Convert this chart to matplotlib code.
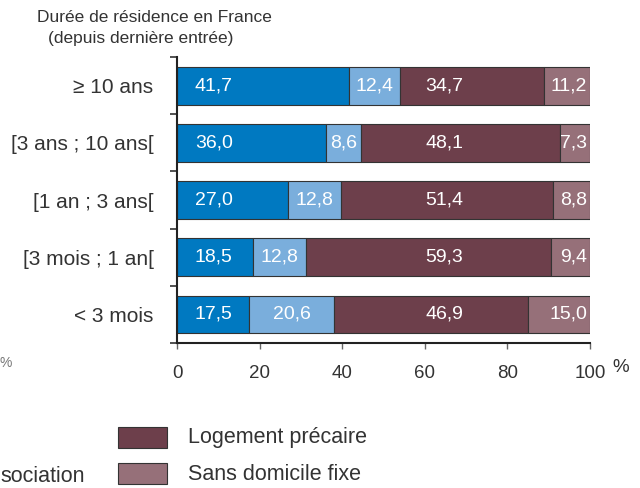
import matplotlib.pyplot as plt
from matplotlib.patches import Rectangle

plt.rcParams['font.family'] = ['Liberation Sans', 'DejaVu Sans']

categories = ['≥ 10 ans', '[3 ans ; 10 ans[', '[1 an ; 3 ans[', '[3 mois ; 1 an[', '< 3 mois']
seg1 = [41.7, 36.0, 27.0, 18.5, 17.5]
seg2 = [12.4, 8.6, 12.8, 12.8, 20.6]
precaire = [34.7, 48.1, 51.4, 59.3, 46.9]
sdf = [11.2, 7.3, 8.8, 9.4, 15.0]
xticks = [0, 20, 40, 60, 80, 100]

c1 = '#0079c1'
c2 = '#7aaedc'
c3 = '#6d3f4b'
c4 = '#967079'
edge = '#333333'
txt = '#333333'

fig = plt.figure(figsize=(6.4, 4.88), dpi=100)
ax = fig.add_axes([0.2766, 0.297, 0.645, 0.586])

y = list(range(len(categories)))
h = 0.66
left = [0] * len(y)
for vals, col in [(seg1, c1), (seg2, c2), (precaire, c3), (sdf, c4)]:
    ax.barh(y, vals, left=left, height=h, color=col, edgecolor=edge, linewidth=0.8)
    left = [l + v for l, v in zip(left, vals)]

fmt = lambda v: f'{v:.1f}'.replace('.', ',')
fs = 14
for i in y:
    ax.text(4.3, i, fmt(seg1[i]), color='white', fontsize=fs, ha='left', va='center')
    ax.text(seg1[i] + seg2[i] / 2, i, fmt(seg2[i]), color='white', fontsize=fs, ha='center', va='center')
    ax.text(64.8, i, fmt(precaire[i]), color='white', fontsize=fs, ha='center', va='center')
    ax.text(99.4, i, fmt(sdf[i]), color='white', fontsize=fs, ha='right', va='center')

ax.set_xlim(0, 100)
ax.set_ylim(len(y) - 0.5, -0.5)
ax.set_yticks(y)
ax.set_yticklabels(categories, fontsize=15, color=txt)
ax.set_yticks([i - 0.5 for i in range(len(y) + 1)], minor=True)
ax.tick_params(axis='y', which='major', length=0, pad=17)
ax.tick_params(axis='y', which='minor', length=5, width=1.2, direction='out', color=edge)
ax.set_xticks(xticks)
ax.set_xticklabels([str(t) for t in xticks], fontsize=13.5, color=txt)
ax.tick_params(axis='x', length=4, width=1, direction='out', pad=12, color='#666666')
for s in ['top', 'right']:
    ax.spines[s].set_visible(False)
for s in ['left', 'bottom']:
    ax.spines[s].set_linewidth(1.5)
    ax.spines[s].set_color('#222222')

fig.text(612 / 640, 1 - 367 / 488, '%', fontsize=13.5, color=txt, ha='left', va='center')
fig.text(37 / 640, 1 - 18 / 488, 'Durée de résidence en France', fontsize=12.5, color=txt, ha='left', va='center')
fig.text(48 / 640, 1 - 38 / 488, '(depuis dernière entrée)', fontsize=12.5, color=txt, ha='left', va='center')
fig.text(0, 1 - 363 / 488, '%', fontsize=10, color='#777777', ha='left', va='center')
fig.text(0, 1 - 476 / 488, 'sociation', fontsize=15.5, color=txt, ha='left', va='center')

for (yy, col, lab) in [(437, c3, 'Logement précaire'), (473, c4, 'Sans domicile fixe')]:
    fig.patches.append(Rectangle((118 / 640, 1 - (yy + 11) / 488), 49 / 640, 21 / 488,
                                 transform=fig.transFigure, facecolor=col, edgecolor=edge, linewidth=0.8))
    fig.text(188 / 640, 1 - (yy + 1) / 488, lab, fontsize=15.5, color=txt, ha='left', va='center')

fig.savefig('out.png', dpi=100)
